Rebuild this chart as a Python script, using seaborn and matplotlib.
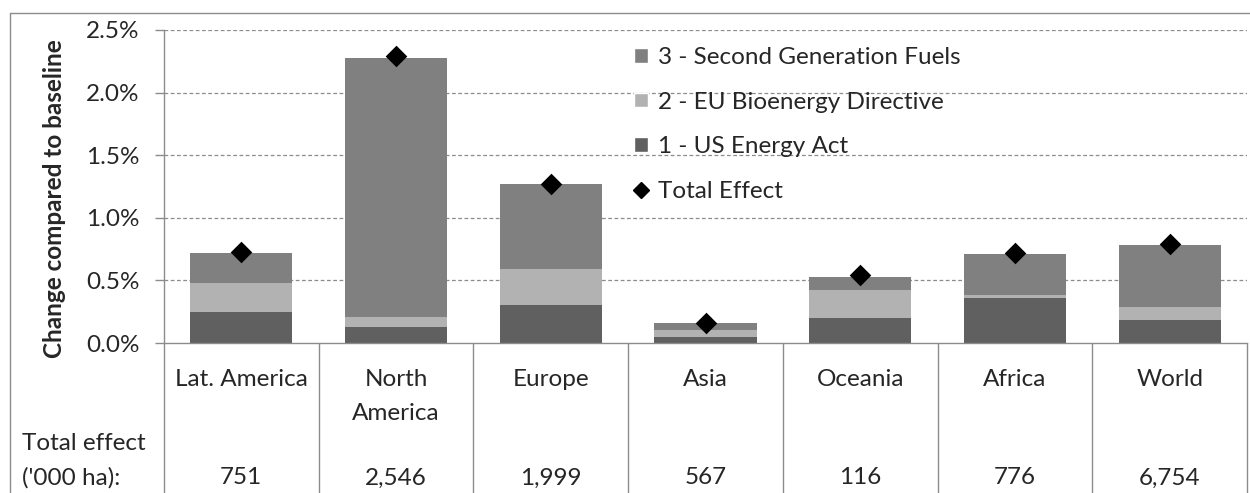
import matplotlib
matplotlib.use('Agg')
import matplotlib.pyplot as plt
import seaborn as sns
import numpy as np
import pandas as pd
from matplotlib.patches import Patch
from matplotlib.lines import Line2D

# values in percent
regions = ['Lat. America', 'North\nAmerica', 'Europe', 'Asia', 'Oceania', 'Africa', 'World']
us_energy_act = [0.25, 0.13, 0.30, 0.05, 0.20, 0.36, 0.18]
eu_directive = [0.23, 0.08, 0.29, 0.05, 0.22, 0.02, 0.11]
second_gen = [0.24, 2.07, 0.68, 0.06, 0.11, 0.33, 0.49]
total_effect = [0.73, 2.29, 1.27, 0.16, 0.54, 0.72, 0.79]
total_ha = ['751', '2,546', '1,999', '567', '116', '776', '6,754']
series_names = ['3 - Second Generation Fuels', '2 - EU Bioenergy Directive', '1 - US Energy Act', 'Total Effect']

sns.set_theme(style='white')
plt.rcParams['font.family'] = ['Lato', 'DejaVu Sans']

FS = 17.5
W, H = 1250, 493
fig = plt.figure(figsize=(W / 100, H / 100), dpi=100)
ax_l, ax_r, ax_t, ax_b = 164, 1247, 30, 343
ax = fig.add_axes([ax_l / W, (H - ax_b) / H, (ax_r - ax_l) / W, (ax_b - ax_t) / H])

df = pd.DataFrame({'region': regions, 'us': us_energy_act, 'eu': eu_directive,
                   'gen2': second_gen, 'total': total_effect})
df['cum1'] = df['us']
df['cum2'] = df['us'] + df['eu']
df['cum3'] = df['cum2'] + df['gen2']

c_gen2, c_eu, c_us = '#808080', '#b2b2b2', '#606060'
for col, c in [('cum3', c_gen2), ('cum2', c_eu), ('cum1', c_us)]:
    sns.barplot(data=df, x='region', y=col, color=c, width=0.66, saturation=1,
                errorbar=None, edgecolor='none', linewidth=0, ax=ax, zorder=2)

sns.stripplot(data=df, x='region', y='total', jitter=False, marker='D', color='black',
              size=11, linewidth=0, ax=ax, zorder=5)

ax.set_xlim(-0.5, len(regions) - 0.5)
ax.set_ylim(0, 2.5)
yt = np.arange(0, 2.51, 0.5)
ax.set_yticks(yt)
ax.set_yticklabels([f'{v:.1f}%' for v in yt], fontsize=FS)
for v in yt[1:]:
    ax.axhline(v, color='#8c8c8c', lw=0.9, ls=(0, (3, 2)), zorder=1)

ax.set_xticks([])
ax.set_xlabel('')
ax.set_ylabel('Change compared to baseline', fontsize=FS, fontweight='bold', va='center')
ax.yaxis.set_label_coords((55 - ax_l) / (ax_r - ax_l), (ax_b - 199) / (ax_b - ax_t))

for s in ['top', 'right']:
    ax.spines[s].set_visible(False)
for s in ['left', 'bottom']:
    ax.spines[s].set_color('#8c8c8c')
    ax.spines[s].set_linewidth(1.0)
ax.tick_params(axis='y', left=True, length=6.5, width=1.0, color='#8c8c8c', pad=11)

# table below the chart
ph = ax_b - ax_t
to_ax = lambda y: (ax_b - y) / ph
xt = ax.get_xaxis_transform()
ax.vlines(np.arange(len(regions) + 1) - 0.5, to_ax(H + 2), 0, transform=xt,
          colors='#8c8c8c', lw=1.0, clip_on=False)
for i, name in enumerate(regions):
    for j, line in enumerate(name.split('\n')):
        ax.text(i, to_ax(380 + 33 * j), line, transform=xt, ha='center', va='center', fontsize=FS)
    ax.text(i, to_ax(478), total_ha[i], transform=xt, ha='center', va='center', fontsize=FS)
fig.text(22 / W, 1 - 443 / H, 'Total effect', ha='left', va='center', fontsize=FS)
fig.text(22 / W, 1 - 478 / H, "('000 ha):", ha='left', va='center', fontsize=FS)

# outer frame
fig.add_artist(Line2D([10 / W, 10 / W], [0, 1 - 13 / H], transform=fig.transFigure, color='#8c8c8c', lw=1.0))
fig.add_artist(Line2D([10 / W, 1], [1 - 13 / H, 1 - 13 / H], transform=fig.transFigure, color='#8c8c8c', lw=1.0))

handles = [Patch(facecolor=c_gen2), Patch(facecolor=c_eu), Patch(facecolor=c_us),
           Line2D([], [], marker='D', color='black', ls='none', markersize=8)]
ax.legend(handles, series_names, loc='upper left', bbox_to_anchor=(622 / W, 1 - 35 / H),
          bbox_transform=fig.transFigure, frameon=False, fontsize=FS, handlelength=0.55,
          handleheight=0.55, handletextpad=0.45, labelspacing=0.97, borderpad=0)

fig.savefig('out.png', dpi=100)
